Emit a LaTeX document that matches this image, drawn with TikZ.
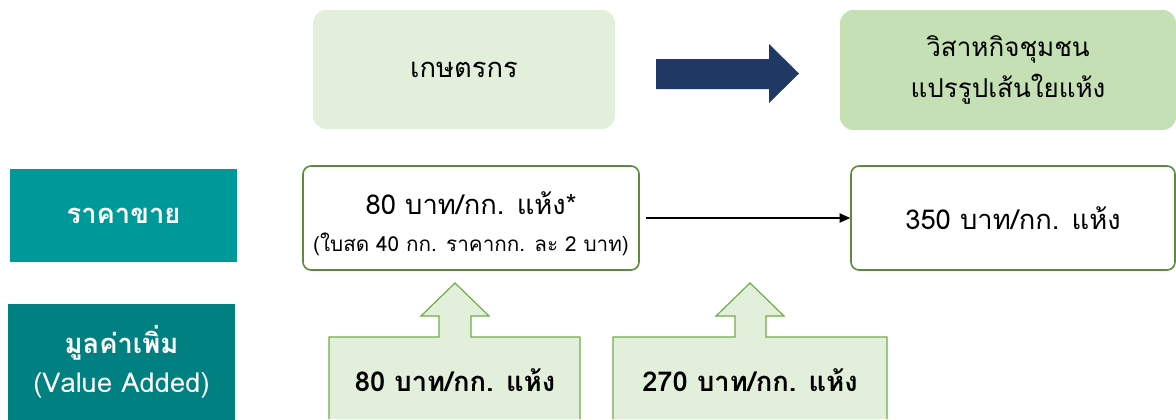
\documentclass[tikz,border=0pt]{standalone}
\usepackage{fontspec}
\setmainfont[Script=Thai]{Loma}
\usetikzlibrary{arrows.meta}
\definecolor{lightgr}{HTML}{E2EFDA}
\definecolor{midgr}{HTML}{C5E0B4}
\definecolor{tealA}{HTML}{009999}
\definecolor{tealB}{HTML}{008080}
\definecolor{navy}{HTML}{203864}
\definecolor{boxline}{HTML}{5B8C3A}
\definecolor{callline}{HTML}{70AD47}
\tikzset{
  topbox/.style={rounded corners=10pt, inner sep=0pt, align=center},
  pricebox/.style={draw=boxline, line width=1.2pt, rounded corners=6pt, fill=white, inner sep=0pt, align=center},
  labelbox/.style={inner sep=0pt, align=center, text=white, font=\bfseries\fontsize{20.5}{30}\selectfont},
  callout/.style={fill=lightgr, draw=callline, line width=0.9pt},
  calltext/.style={font=\bfseries\fontsize{20.5}{24}\selectfont},
  bigtext/.style={font=\fontsize{20.5}{24}\selectfont},
}
\begin{document}
\begin{tikzpicture}[x=0.75pt,y=-0.75pt]
\useasboundingbox (0,0) rectangle (1176,419);
% top row
\node[topbox, fill=lightgr, minimum width=302*0.75pt, minimum height=119*0.75pt, font=\fontsize{20.5}{30}\selectfont] (farmer) at (464,69.5) {เกษตรกร};
\node[topbox, fill=midgr, minimum width=336*0.75pt, minimum height=120*0.75pt, font=\fontsize{19.5}{31}\selectfont] (enterprise) at (1008,70) {วิสาหกิจชุมชน\\แปรรูปเส้นใยแห้ง};
\fill[navy] (656,59) -- (769,59) -- (769,44) -- (799,73.5) -- (769,103) -- (769,89) -- (656,89) -- cycle;
% left labels
\node[labelbox, fill=tealA, minimum width=227*0.75pt, minimum height=93*0.75pt] (price) at (123.5,215.5) {ราคาขาย};
\node[labelbox, fill=tealB, minimum width=227*0.75pt, minimum height=116*0.75pt] (value) at (121.5,362) {มูลค่าเพิ่ม\\[-1pt]{\mdseries(Value Added)}};
% price boxes
\node[pricebox, minimum width=336*0.75pt, minimum height=104*0.75pt] (p80) at (471,218) {};
\node[bigtext] (p80a) at (471,203) {80 บาท/กก. แห้ง*};
\node[font=\fontsize{15.5}{18}\selectfont] (p80b) at (471,244) {(ใบสด 40 กก. ราคากก. ละ 2 บาท)};
\node[pricebox, bigtext, minimum width=324*0.75pt, minimum height=104*0.75pt] (p350) at (1013,218) {350 บาท/กก. แห้ง};
\draw[-{Triangle[length=8pt,width=7pt]}, line width=1pt] (p80.east) ++(6,0) coordinate (s) (s) -- (p350.west);
% callouts
\draw[callout] (329,419) -- (329,337) -- (439,337) -- (439,316) -- (421,316) -- (455,283) -- (489,316) -- (471,316) -- (471,337) -- (580,337) -- (580,419);
\node[calltext] (v80) at (455,380) {80 บาท/กก. แห้ง};
\draw[callout] (613,419) -- (613,337) -- (735,337) -- (735,316) -- (716,316) -- (750,283) -- (784,316) -- (766,316) -- (766,337) -- (887,337) -- (887,419);
\node[calltext] (v270) at (750,380) {270 บาท/กก. แห้ง};
\end{tikzpicture}
\end{document}
